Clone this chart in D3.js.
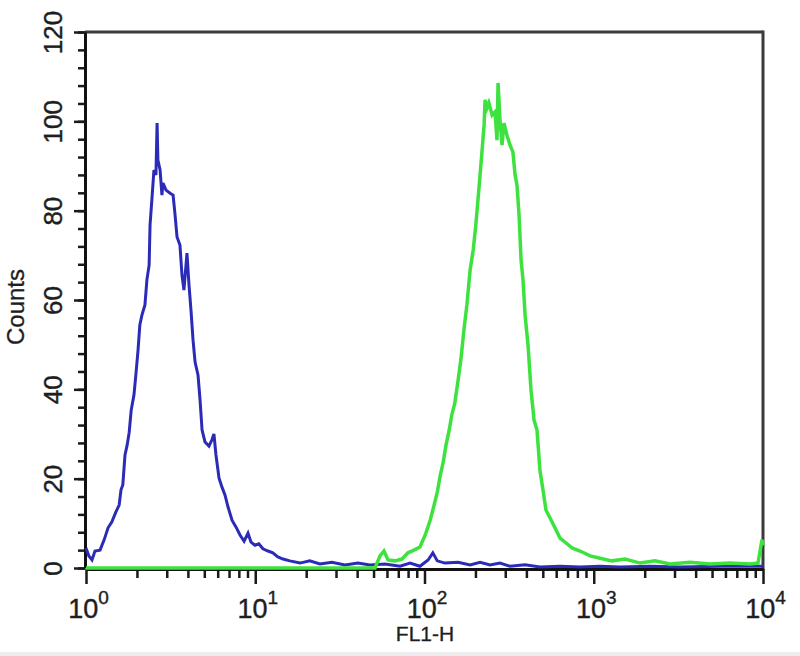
<!DOCTYPE html>
<html>
<head>
<meta charset="utf-8">
<script src="https://cdn.jsdelivr.net/npm/d3@7"></script>
<style>
  html, body { margin: 0; padding: 0; background: #ffffff; }
  svg { display: block; }
  text { font-family: "Liberation Sans", Arial, sans-serif; fill: #1e1e1e; }
</style>
</head>
<body>
<svg id="chart" width="800" height="656"></svg>
<script>
// ---- data ----
const xDomain = [1, 10000];
const yDomain = [0, 120];
const yMajorTicks = [0, 20, 40, 60, 80, 100, 120];
const yMinorTicks = d3.range(0, 121, 4);
const xMajorTicks = [1, 10, 100, 1000, 10000];
const xExponents = ["0", "1", "2", "3", "4"];
const xTitle = "FL1-H";
const yTitle = "Counts";

const blueFL1 = [1.00, 1.04, 1.085, 1.13, 1.21, 1.28, 1.35, 1.42, 1.50, 1.57, 1.61, 1.65, 1.70, 1.75, 1.80, 1.85, 1.92, 1.97, 2.03, 2.08, 2.14, 2.23, 2.29, 2.36, 2.39, 2.45, 2.52, 2.59, 2.63, 2.66, 2.74, 2.81, 2.85, 2.97, 3.14, 3.27, 3.36, 3.45, 3.59, 3.69, 3.79, 3.95, 4.06, 4.17, 4.29, 4.41, 4.59, 4.72, 4.85, 5.05, 5.33, 5.55, 5.70, 5.86, 6.11, 6.36, 6.63, 6.90, 7.29, 7.69, 8.13, 8.59, 9.06, 9.44, 9.97, 10.5, 11.1, 11.9, 12.7, 13.6, 14.6, 16.0, 18.4, 21.0, 24.1, 28.4, 33.9, 40.4, 47.6, 58.4, 71.7, 82.1, 94.0, 105, 112, 119, 132, 158, 186, 213, 244, 279, 320, 393, 481, 632, 830, 1090, 1430, 2150, 3230, 5570, 10000];
const blueCounts = [4.5, 2.7, 1.8, 3.8, 4.0, 6.3, 9.0, 10.3, 12.5, 14.1, 17.5, 18.6, 25.3, 27.5, 30.4, 35.4, 38.7, 43.2, 48.8, 54.4, 56.6, 58.9, 64.5, 67.8, 76.8, 82.4, 89.1, 88.0, 99.6, 91.3, 89.1, 83.5, 86.2, 84.6, 83.9, 83.5, 79.0, 74.1, 72.3, 65.6, 62.2, 70.5, 63.4, 57.8, 51.0, 46.1, 43.2, 37.6, 30.9, 28.2, 27.3, 28.7, 30.0, 25.3, 20.1, 18.1, 16.3, 13.7, 10.7, 9.2, 7.4, 6.0, 7.8, 5.8, 5.1, 5.4, 4.3, 3.8, 3.4, 2.5, 2.0, 1.6, 1.1, 1.6, 0.9, 1.3, 0.7, 1.1, 0.7, 0.9, 0.4, 1.1, 0.4, 1.8, 3.4, 1.6, 1.1, 1.3, 0.7, 1.3, 0.7, 1.1, 0.4, 0.7, 0.2, 0.4, 0.2, 0.4, 0.2, 0.4, 0.2, 0.4, 0.4];

const greenFL1 = [1.00, 51, 54.6, 57.6, 60.9, 66.9, 73.6, 79.9, 86.6, 94.0, 101, 108, 114, 119, 124, 129, 134, 140, 145, 151, 158, 164, 171, 178, 186, 194, 201, 207, 213, 219, 225, 228, 234, 240, 251, 261, 268, 272, 279, 287, 295, 307, 320, 333, 343, 352, 362, 372, 382, 393, 409, 426, 444, 462, 481, 501, 522, 552, 590, 632, 686, 744, 830, 951, 1090, 1280, 1530, 1880, 2300, 2820, 3710, 4860, 6380, 8380, 9340, 9860, 10000];
const greenCounts = [0, 0, 2.7, 3.8, 1.8, 1.6, 2.0, 3.4, 4.0, 4.7, 7.4, 10.7, 14.1, 17.0, 20.8, 23.7, 27.5, 30.9, 34.3, 36.9, 42.1, 46.6, 53.3, 58.9, 66.7, 71.2, 76.8, 82.4, 88.0, 93.6, 99.2, 104.8, 103.0, 104.1, 101.4, 102.1, 95.8, 108.6, 100.7, 94.7, 99.6, 96.9, 94.7, 93.1, 88.0, 85.7, 79.0, 69.0, 64.5, 56.6, 49.9, 39.8, 33.1, 30.9, 21.9, 17.5, 13.0, 11.2, 9.0, 6.7, 5.6, 4.5, 3.8, 2.7, 2.2, 1.6, 2.0, 1.1, 1.6, 0.9, 1.3, 0.9, 1.1, 0.9, 1.1, 6.3, 5.1];

// ---- layout ----
const svg = d3.select("#chart");
const plotLeft = 86, plotRight = 763, plotTop = 32, plotBottom = 568;

const x = d3.scaleLog().domain(xDomain).range([plotLeft, plotRight]);
const y = d3.scaleLinear().domain(yDomain).range([plotBottom, plotTop]);

const blueData = blueFL1.map((v, i) => [v, blueCounts[i]]);
const greenData = greenFL1.map((v, i) => [v, greenCounts[i]]);

const line = d3.line().x(d => x(d[0])).y(d => y(d[1])).curve(d3.curveLinear);

// faint bottom border of the picture
svg.append("rect").attr("x", 0).attr("y", 652).attr("width", 800).attr("height", 4).attr("fill", "#ececec");

// frame top / right
svg.append("line").attr("x1", plotLeft - 1).attr("x2", plotRight).attr("y1", plotTop).attr("y2", plotTop)
  .attr("stroke", "#3a3a3a").attr("stroke-width", 3);
svg.append("line").attr("x1", plotRight).attr("x2", plotRight).attr("y1", plotTop - 1.5).attr("y2", plotBottom + 2)
  .attr("stroke", "#3a3a3a").attr("stroke-width", 3);

// y axis minor ticks
const yMinor = svg.append("g").attr("transform", `translate(${plotLeft - 1},0)`)
  .call(d3.axisLeft(y).tickValues(yMinorTicks).tickSize(7).tickFormat(""));
yMinor.select(".domain").remove();
yMinor.selectAll(".tick line").attr("stroke", "#1a1a1a").attr("stroke-width", 2.5);

// y axis major ticks + labels
const yAxis = svg.append("g").attr("transform", `translate(${plotLeft - 1},0)`)
  .call(d3.axisLeft(y).tickValues(yMajorTicks).tickSize(11).tickSizeOuter(0).tickPadding(0));
yAxis.select(".domain").attr("stroke", "#111").attr("stroke-width", 3);
yAxis.selectAll(".tick line").attr("stroke", "#1a1a1a").attr("stroke-width", 2.5);
yAxis.selectAll(".tick text")
  .attr("x", 0).attr("dy", null).attr("y", 0)
  .attr("transform", "translate(-23,0) rotate(-90)")
  .attr("text-anchor", "middle")
  .style("font-size", "26px")
  .style("font-family", "'Liberation Sans', Arial, sans-serif")
  .attr("fill", "#1e1e1e")
  .attr("stroke", "#1e1e1e").attr("stroke-width", 0.4);

// x axis minor ticks
const minorX = [];
for (let e = 0; e < 4; e++) for (let m = 2; m <= 9; m++) minorX.push(m * Math.pow(10, e));
const xMinor = svg.append("g").attr("transform", `translate(0,${plotBottom + 1})`)
  .call(d3.axisBottom(x).tickValues(minorX).tickSize(9).tickFormat(""));
xMinor.select(".domain").remove();
xMinor.selectAll(".tick line").attr("stroke", "#1a1a1a").attr("stroke-width", 2.5);

// x axis major ticks + labels
const xAxis = svg.append("g").attr("transform", `translate(0,${plotBottom + 1})`)
  .call(d3.axisBottom(x).tickValues(xMajorTicks).tickSize(15).tickSizeOuter(0).tickFormat(""));
xAxis.select(".domain").attr("stroke", "#111").attr("stroke-width", 3);
xAxis.selectAll(".tick line").attr("stroke", "#1a1a1a").attr("stroke-width", 2.5);
xAxis.selectAll(".tick").each(function (d, i) {
  const t = d3.select(this).append("text")
    .attr("x", 2).attr("y", 49)
    .attr("text-anchor", "middle")
    .style("font-size", "27px")
    .attr("fill", "#1e1e1e")
    .attr("stroke", "#1e1e1e").attr("stroke-width", 0.4);
  t.append("tspan").text("10");
  t.append("tspan").attr("dy", -14).style("font-size", "19px").text(xExponents[i]);
});

// curves (drawn over the axis line, as in the reference)
svg.append("path").datum(blueData).attr("d", line)
  .attr("fill", "none").attr("stroke", "#2b2bb8").attr("stroke-width", 3).attr("stroke-linejoin", "miter");
svg.append("path").datum(greenData).attr("d", line)
  .attr("fill", "none").attr("stroke", "#3ee23e").attr("stroke-width", 3.5).attr("stroke-linejoin", "miter");

// axis titles
svg.append("text").attr("x", 425).attr("y", 641).attr("text-anchor", "middle")
  .style("font-size", "21px").attr("stroke", "#1e1e1e").attr("stroke-width", 0.3).text(xTitle);
svg.append("text").attr("transform", "translate(24,307) rotate(-90)").attr("text-anchor", "middle")
  .style("font-size", "24px").attr("stroke", "#1e1e1e").attr("stroke-width", 0.3).text(yTitle);
</script>
</body>
</html>
